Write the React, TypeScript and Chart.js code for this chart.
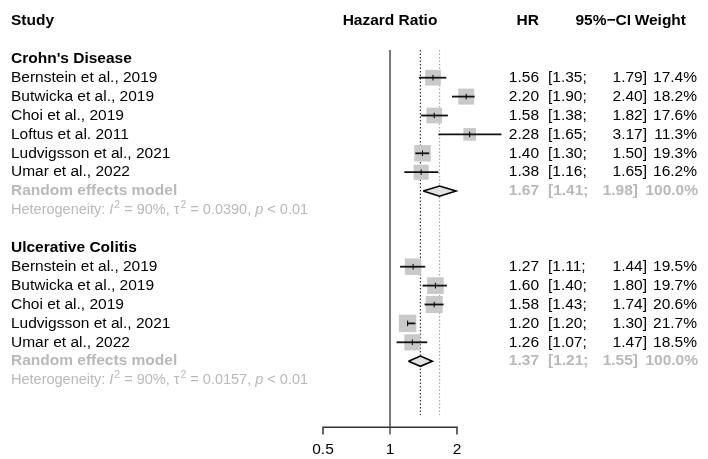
import React, { useEffect, useRef } from "react";
import { Chart, registerables } from "chart.js";

Chart.register(...registerables);

// ---------- data ----------
const cdStudies = [
  "Bernstein et al., 2019",
  "Butwicka et al., 2019",
  "Choi et al., 2019",
  "Loftus et al. 2011",
  "Ludvigsson et al., 2021",
  "Umar et al., 2022",
];
const cdHR = [1.56, 2.2, 1.58, 2.28, 1.4, 1.38];
const cdLower = [1.35, 1.9, 1.38, 1.65, 1.3, 1.16];
const cdUpper = [1.79, 2.4, 1.82, 3.17, 1.5, 1.65];
const cdWeight = [17.4, 18.2, 17.6, 11.3, 19.3, 16.2];
const cdPooled = [1.67, 1.41, 1.98]; // est, lower, upper
const cdTau2 = "0.0390";

const ucStudies = [
  "Bernstein et al., 2019",
  "Butwicka et al., 2019",
  "Choi et al., 2019",
  "Ludvigsson et al., 2021",
  "Umar et al., 2022",
];
const ucHR = [1.27, 1.6, 1.58, 1.2, 1.26];
const ucLower = [1.11, 1.4, 1.43, 1.2, 1.07];
const ucUpper = [1.44, 1.8, 1.74, 1.3, 1.47];
const ucWeight = [19.5, 19.7, 20.6, 21.7, 18.5];
const ucPooled = [1.37, 1.21, 1.55];
const ucTau2 = "0.0157";

const groupNames = ["Crohn's Disease", "Ulcerative Colitis"];
const i2Values = ["90%", "90%"];
const pValues = ["< 0.01", "< 0.01"];
const referenceLines = [1.37, 1.67];
const axisTicks = [0.5, 1, 2];

// ---------- layout ----------
const W = 708;
const H = 459;
const FONT = '"Liberation Sans", Arial, Helvetica, sans-serif';
const ROW0 = 21; // px of header row
const ROWH = 18.9; // px per row
const X1 = 390; // px for HR = 1
const PX_PER_LOG2 = 67;
const GREY_TEXT = "#b9b9b9";

type Group = {
  name: string;
  studies: string[];
  hr: number[];
  lo: number[];
  hi: number[];
  w: number[];
  pooled: number[];
  tau2: string;
  i2: string;
  p: string;
  titleRow: number;
  firstRow: number;
  pooledRow: number;
  hetRow: number;
};

const groups: Group[] = [];
{
  let row = 2;
  const raw = [
    [cdStudies, cdHR, cdLower, cdUpper, cdWeight, cdPooled, cdTau2],
    [ucStudies, ucHR, ucLower, ucUpper, ucWeight, ucPooled, ucTau2],
  ] as any[];
  raw.forEach((g, gi) => {
    const titleRow = row;
    const firstRow = row + 1;
    const pooledRow = firstRow + g[0].length;
    const hetRow = pooledRow + 1;
    groups.push({
      name: groupNames[gi],
      studies: g[0],
      hr: g[1],
      lo: g[2],
      hi: g[3],
      w: g[4],
      pooled: g[5],
      tau2: g[6],
      i2: i2Values[gi],
      p: pValues[gi],
      titleRow,
      firstRow,
      pooledRow,
      hetRow,
    });
    row = hetRow + 2;
  });
}
const lastRow = groups[groups.length - 1].hetRow;
const AXIS_ROW = lastRow + 2.5;
const TICK_LEN = 0.38;
const LINE_TOP = 1.53;
const DOT_BOTTOM = lastRow + 1.85;
const TICKLABEL_ROW = AXIS_ROW + 1.2;

const textPlugin = {
  id: "forestText",
  afterDraw(chart: any) {
    const ctx: CanvasRenderingContext2D = chart.ctx;
    const ys = chart.scales.y;
    const xs = chart.scales.x;
    const Y = (r: number) => ys.getPixelForValue(r);
    const put = (s: string, x: number, y: number, align: CanvasTextAlign) => {
      ctx.textAlign = align;
      ctx.fillText(s, x, y);
    };
    ctx.save();
    ctx.textBaseline = "middle";
    const SZ = 15.5;
    // headers
    ctx.fillStyle = "#000";
    ctx.font = `bold ${SZ}px ${FONT}`;
    put("Study", 11, Y(0), "left");
    put("Hazard Ratio", xs.getPixelForValue(1), Y(0), "center");
    put("HR", 539, Y(0), "right");
    put("95%\u2212CI", 631, Y(0), "right");
    put("Weight", 686, Y(0), "right");

    groups.forEach((g) => {
      ctx.fillStyle = "#000";
      ctx.font = `bold ${SZ}px ${FONT}`;
      put(g.name, 11, Y(g.titleRow), "left");
      ctx.font = `${SZ}px ${FONT}`;
      g.studies.forEach((s, i) => {
        const y = Y(g.firstRow + i);
        put(s, 11, y, "left");
        put(g.hr[i].toFixed(2), 539, y, "right");
        put("[" + g.lo[i].toFixed(2) + ";", 548, y, "left");
        put(g.hi[i].toFixed(2) + "]", 647, y, "right");
        put(g.w[i].toFixed(1) + "%", 697, y, "right");
      });
      // pooled
      ctx.fillStyle = GREY_TEXT;
      ctx.font = `bold ${SZ}px ${FONT}`;
      const yp = Y(g.pooledRow);
      put("Random effects model", 11, yp, "left");
      put(g.pooled[0].toFixed(2), 539, yp, "right");
      put("[" + g.pooled[1].toFixed(2) + ";", 548, yp, "left");
      put(g.pooled[2].toFixed(2) + "]", 638, yp, "right");
      put("100.0%", 698, yp, "right");
      // heterogeneity
      const HS = 14.5;
      const yh = Y(g.hetRow);
      let x = 11;
      const seg = (s: string, font: string, dy = 0) => {
        ctx.font = font;
        ctx.textAlign = "left";
        ctx.fillText(s, x, yh + dy);
        x += ctx.measureText(s).width;
      };
      const normal = `${HS}px ${FONT}`;
      const ital = `italic ${HS}px ${FONT}`;
      const sup = `${HS * 0.72}px ${FONT}`;
      seg("Heterogeneity: ", normal);
      seg("I", ital);
      x += 1;
      seg("2", sup, -5);
      seg(" = " + g.i2 + ", ", normal);
      seg("\u03c4", normal);
      x += 1;
      seg("2", sup, -5);
      seg(" = " + g.tau2 + ", ", normal);
      seg("p", ital);
      seg(" " + g.p, normal);
    });

    // axis tick labels
    ctx.fillStyle = "#000";
    ctx.font = `${SZ}px ${FONT}`;
    axisTicks.forEach((t) => {
      put(String(t), xs.getPixelForValue(t), Y(TICKLABEL_ROW), "center");
    });
    ctx.restore();
  },
};

export default function App() {
  const ref = useRef<HTMLCanvasElement | null>(null);
  useEffect(() => {
    if (!ref.current) return;
    const datasets: any[] = [];
    const lineBase = {
      type: "line",
      pointRadius: 0,
      pointHoverRadius: 0,
      tension: 0,
      fill: false,
      clip: false,
    };
    // reference solid line at 1
    datasets.push({
      ...lineBase,
      order: 10,
      data: [
        { x: 1, y: LINE_TOP },
        { x: 1, y: AXIS_ROW + TICK_LEN },
      ],
      borderColor: "#5a5a5a",
      borderWidth: 1.6,
    });
    // dotted lines
    referenceLines.forEach((v, i) => {
      datasets.push({
        ...lineBase,
        order: 9,
        data: [
          { x: v, y: LINE_TOP },
          { x: v, y: DOT_BOTTOM },
        ],
        borderColor: i === 0 ? "#333333" : "#a8a8a8",
        borderWidth: 1.2,
        borderDash: [1.5, 2],
      });
    });
    // axis
    datasets.push({
      ...lineBase,
      order: 8,
      data: [
        { x: axisTicks[0], y: AXIS_ROW + TICK_LEN },
        { x: axisTicks[0], y: AXIS_ROW },
        { x: axisTicks[axisTicks.length - 1], y: AXIS_ROW },
        { x: axisTicks[axisTicks.length - 1], y: AXIS_ROW + TICK_LEN },
      ],
      borderColor: "#333333",
      borderWidth: 1.5,
    });
    // squares
    const sq: any[] = [];
    const sqR: number[] = [];
    const ticks: any[] = [];
    groups.forEach((g) => {
      g.hr.forEach((v, i) => {
        sq.push({ x: v, y: g.firstRow + i });
        sqR.push((3.75 * Math.sqrt(g.w[i])) / Math.SQRT2);
        ticks.push({ x: v, y: g.firstRow + i });
        // CI line
        datasets.push({
          ...lineBase,
          order: 2,
          data: [
            { x: g.lo[i], y: g.firstRow + i },
            { x: g.hi[i], y: g.firstRow + i },
          ],
          borderColor: "#111111",
          borderWidth: 1.8,
        });
      });
      // diamond
      const [e, lo, hi] = g.pooled;
      const r = g.pooledRow;
      const hh = 0.27;
      datasets.push({
        ...lineBase,
        order: 1,
        data: [
          { x: lo, y: r },
          { x: e, y: r - hh },
          { x: hi, y: r },
          { x: e, y: r + hh },
          { x: lo, y: r },
        ],
        borderColor: "#000000",
        borderWidth: 1.6,
        backgroundColor: "#e2e2e2",
        fill: "shape",
      });
    });
    datasets.push({
      type: "scatter",
      order: 5,
      data: sq,
      pointStyle: "rect",
      pointRadius: sqR,
      pointHoverRadius: sqR,
      backgroundColor: "#c9c9c9",
      borderWidth: 0,
      clip: false,
    });
    datasets.push({
      type: "scatter",
      order: 0,
      data: ticks,
      pointStyle: "line",
      rotation: 90,
      pointRadius: 2.8,
      pointHoverRadius: 2.8,
      borderColor: "#000000",
      borderWidth: 1,
      clip: false,
    });

    const chart = new Chart(ref.current, {
      type: "scatter",
      data: { datasets },
      options: {
        animation: false,
        responsive: false,
        events: [],
        layout: { padding: 0, autoPadding: false },
        plugins: {
          legend: { display: false },
          tooltip: { enabled: false },
        },
        scales: {
          x: {
            type: "logarithmic",
            display: false,
            bounds: "data",
            min: Math.pow(2, -X1 / PX_PER_LOG2),
            max: Math.pow(2, (W - X1) / PX_PER_LOG2),
          },
          y: {
            type: "linear",
            display: false,
            reverse: true,
            bounds: "data",
            min: -ROW0 / ROWH,
            max: (H - ROW0) / ROWH,
          },
        },
      } as any,
      plugins: [textPlugin],
    } as any);
    return () => chart.destroy();
  }, []);
  return (
    <div style={{ position: "absolute", left: 0, top: 0, width: W, height: H, background: "#fff" }}>
      <canvas ref={ref} width={W} height={H} style={{ display: "block", width: W, height: H }} />
    </div>
  );
}
